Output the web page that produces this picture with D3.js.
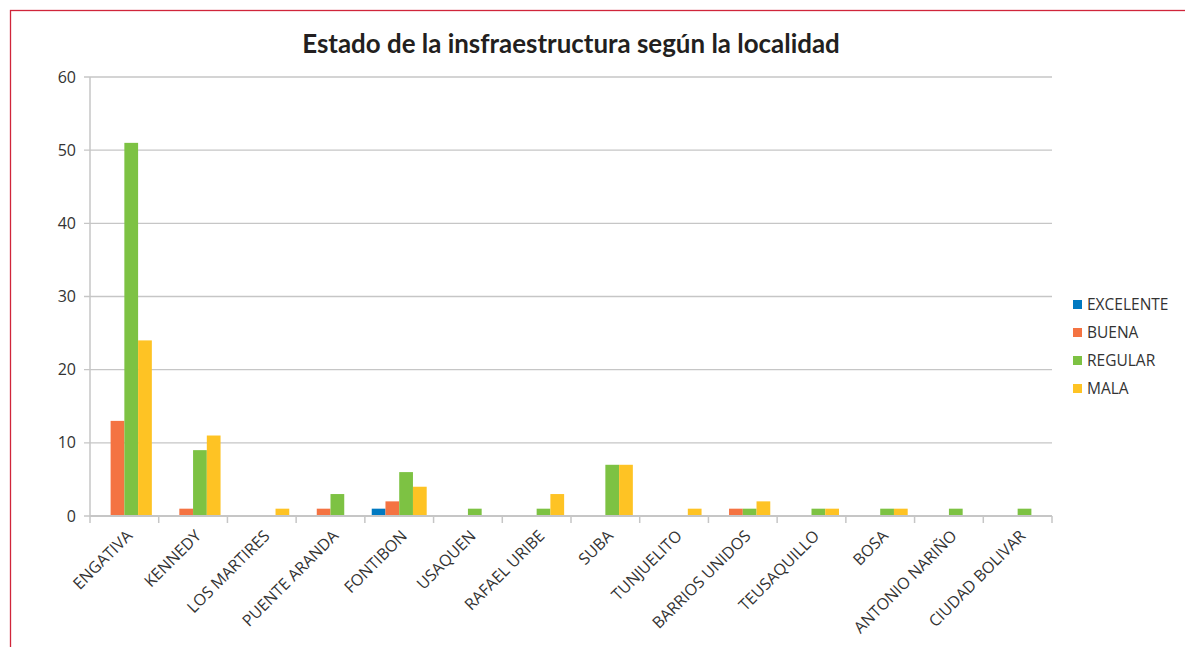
<!DOCTYPE html>
<html>
<head>
<meta charset="utf-8">
<script src="https://cdn.jsdelivr.net/npm/d3@7"></script>
<style>
  body { margin: 0; background: #fff; }
  text { font-family: "Open Sans", Lato, sans-serif; fill: #333; }
</style>
</head>
<body>
<div class="chart"></div>
<script>
const localidades = ["ENGATIVA", "KENNEDY", "LOS MARTIRES", "PUENTE ARANDA", "FONTIBON", "USAQUEN",
  "RAFAEL URIBE", "SUBA", "TUNJUELITO", "BARRIOS UNIDOS", "TEUSAQUILLO", "BOSA",
  "ANTONIO NARIÑO", "CIUDAD BOLIVAR"];
const series = ["EXCELENTE", "BUENA", "REGULAR", "MALA"];
const excelente = [0, 0, 0, 0, 1, 0, 0, 0, 0, 0, 0, 0, 0, 0];
const buena     = [13, 1, 0, 1, 2, 0, 0, 0, 0, 1, 0, 0, 0, 0];
const regular   = [51, 9, 0, 3, 6, 1, 1, 7, 0, 1, 1, 1, 1, 1];
const mala      = [24, 11, 1, 0, 4, 0, 3, 7, 1, 2, 1, 1, 0, 0];
const yTicks = [0, 10, 20, 30, 40, 50, 60];
const colors = ["#0079c1", "#f47342", "#7dc243", "#fec324"];

const values = [excelente, buena, regular, mala];

const W = 1185, H = 647;
const margin = {top: 77, right: 133, bottom: 131, left: 90},
      width = W - margin.left - margin.right,
      height = H - margin.top - margin.bottom;

const root = d3.select(".chart").append("svg")
    .attr("width", W)
    .attr("height", H);

// red frame
root.append("rect")
    .attr("x", 10.5).attr("y", 10.5)
    .attr("width", W + 20).attr("height", H + 20)
    .attr("fill", "none")
    .attr("stroke", "#d0253a")
    .attr("stroke-width", 1.3);

const title = root.append("text")
    .attr("x", 571).attr("y", 53)
    .attr("text-anchor", "middle")
    .attr("font-weight", "bold")
    .attr("font-size", 25)
    .style("font-family", "Lato, sans-serif")
    .style("fill", "#231f20")
    .text("Estado de la insfraestructura según la localidad");
// fit the title to the width seen in the picture
const tw = title.node().getComputedTextLength();
title.attr("font-size", 25 * 538 / tw);

const svg = root.append("g")
    .attr("transform", "translate(" + margin.left + "," + margin.top + ")");

const x = d3.scaleBand()
    .domain(localidades)
    .range([0, width])
    .padding(0);

const xs = d3.scaleBand()
    .domain(series)
    .range([x.bandwidth() * 0.1, x.bandwidth() * 0.9]);

const y = d3.scaleLinear()
    .domain([0, 60])
    .range([height, 0]);

// gridlines
svg.append("g")
    .selectAll("line")
    .data(yTicks)
    .join("line")
    .attr("x1", -6).attr("x2", width)
    .attr("y1", d => y(d)).attr("y2", d => y(d))
    .attr("stroke", "#c6c6c6")
    .attr("stroke-width", 1.3);

// y axis line
svg.append("line")
    .attr("x1", 0).attr("x2", 0)
    .attr("y1", 0).attr("y2", height)
    .attr("stroke", "#c6c6c6")
    .attr("stroke-width", 1.5);

svg.append("g")
    .selectAll("text")
    .data(yTicks)
    .join("text")
    .attr("x", -14)
    .attr("y", d => y(d))
    .attr("dy", "0.35em")
    .attr("text-anchor", "end")
    .attr("font-size", 16)
    .text(d => d);

// bars
const groups = svg.append("g")
    .selectAll("g")
    .data(localidades)
    .join("g")
    .attr("transform", d => "translate(" + x(d) + ",0)");

groups.selectAll("rect")
    .data((d, i) => series.map((s, j) => ({s: s, v: values[j][i], c: colors[j]})))
    .join("rect")
    .attr("x", d => xs(d.s))
    .attr("width", xs.bandwidth())
    .attr("y", d => y(d.v))
    .attr("height", d => height - y(d.v))
    .attr("fill", d => d.c);

// x axis
svg.append("line")
    .attr("x1", 0).attr("x2", width)
    .attr("y1", height).attr("y2", height)
    .attr("stroke", "#c6c6c6")
    .attr("stroke-width", 2);

svg.append("g")
    .selectAll("line")
    .data(localidades.concat([null]))
    .join("line")
    .attr("x1", (d, i) => i * x.step())
    .attr("x2", (d, i) => i * x.step())
    .attr("y1", height).attr("y2", height + 7)
    .attr("stroke", "#c6c6c6")
    .attr("stroke-width", 1.5);

svg.append("g")
    .selectAll("text")
    .data(localidades)
    .join("text")
    .attr("transform", d => "translate(" + (x(d) + x.bandwidth() / 2 + 1) + "," + (height + 13) + ") rotate(-45)")
    .attr("text-anchor", "end")
    .attr("dy", "0.7em")
    .attr("font-size", 16)
    .text(d => d);

// legend
const legend = root.append("g")
    .attr("transform", "translate(1073,305)");

const item = legend.selectAll("g")
    .data(series)
    .join("g")
    .attr("transform", (d, i) => "translate(0," + i * 28 + ")");

item.append("rect")
    .attr("x", 0).attr("y", -5)
    .attr("width", 9).attr("height", 9)
    .attr("fill", (d, i) => colors[i]);

item.append("text")
    .attr("x", 14).attr("y", 0)
    .attr("dy", "0.35em")
    .attr("font-size", 15.5)
    .text(d => d);
</script>
</body>
</html>
